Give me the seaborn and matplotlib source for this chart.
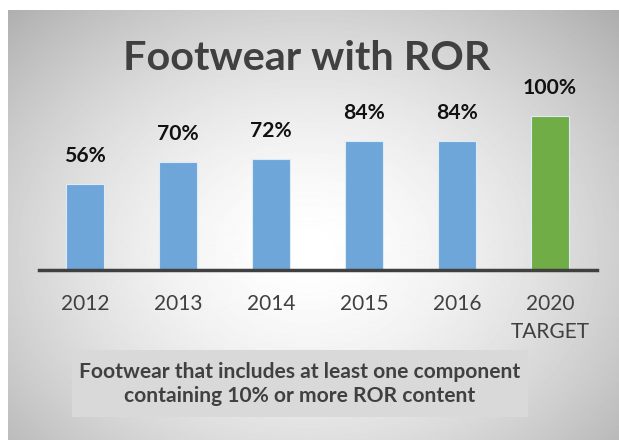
import numpy as np
import matplotlib
matplotlib.use("Agg")
import matplotlib.pyplot as plt
import seaborn as sns
from matplotlib.patches import Rectangle

categories = ["2012", "2013", "2014", "2015", "2016", "2020\nTARGET"]
values = [56, 70, 72, 84, 84, 100]
value_labels = ["56%", "70%", "72%", "84%", "84%", "100%"]
bar_colors = ["#6FA6DA"] * 5 + ["#70AD47"]
title = "Footwear with ROR"
note = "Footwear that includes at least one component\ncontaining 10% or more ROR content"

sns.set_theme(style="white")
plt.rcParams["font.family"] = ["Lato", "DejaVu Sans"]

W, H = 619, 440
fig = plt.figure(figsize=(W / 100, H / 100), dpi=100)
fig.patch.set_facecolor("white")

# background gradient panel
bg = fig.add_axes([8 / W, 0, 1 - 8 / W, 1 - 10 / H])
bg.set_axis_off()
yy, xx = np.mgrid[0:430, 0:611]
cx, cy = 300, 240
r = np.sqrt(((xx - cx) / 380.0) ** 2 + ((yy - cy) / 300.0) ** 2)
g = np.clip(1 - 0.26 * r ** 1.6, 0, 1)
bg.imshow(g, cmap="gray", vmin=0, vmax=1, aspect="auto", extent=[0, 1, 0, 1], origin="upper")
bg.set_xlim(0, 1)
bg.set_ylim(0, 1)

# note box
fig.patches.append(Rectangle((72 / W, 1 - 417 / H), (528 - 72) / W, (417 - 350) / H,
                             transform=fig.transFigure, facecolor="#D9D9D9", edgecolor="none", zorder=1))
fig.text(300 / W, 1 - 384 / H, note, ha="center", va="center", fontsize=15.1, fontweight="bold",
         color="#404040", linespacing=1.25, zorder=2)

fig.text(307 / W, 1 - 58 / H, title, ha="center", va="center", fontsize=29.8, fontweight="bold",
         color="#404040")

ax = fig.add_axes([38.5 / W, 1 - 270 / H, 558 / W, 154 / H])
ax.set_facecolor("none")
sns.barplot(x=categories, y=values, hue=categories, palette=bar_colors, width=0.4,
            legend=False, ax=ax, saturation=1, edgecolor="#DDEBF7", linewidth=0.8)
ax.set_xlim(-0.5, 5.5)
ax.set_ylim(0, 100)
for i, (v, lab) in enumerate(zip(values, value_labels)):
    ax.annotate(lab, (i, v), xytext=(0, 13), textcoords="offset points", ha="center", va="bottom",
                fontsize=15.2, fontweight="bold", color="#111111", annotation_clip=False)
for s in ["top", "right", "left"]:
    ax.spines[s].set_visible(False)
ax.spines["bottom"].set_color("#404040")
ax.spines["bottom"].set_linewidth(2.5)
ax.set_yticks([])
ax.tick_params(axis="x", length=0, pad=17, labelsize=15, labelcolor="#404040")
for t in ax.get_xticklabels():
    t.set_linespacing(1.55)
    t.set_va("top")
ax.set_xlabel("")
ax.set_ylabel("")

fig.savefig("out.png", dpi=100)
